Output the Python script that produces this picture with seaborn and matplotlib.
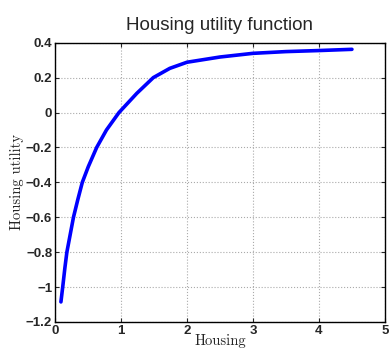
import matplotlib.pyplot as plt
import seaborn as sns
import pandas as pd

housing = [0.09, 0.12, 0.15, 0.18, 0.23, 0.28, 0.345, 0.414, 0.505, 0.632, 0.78, 0.97,
           1.24, 1.49, 1.74, 2.0, 2.5, 3.0, 3.5, 4.0, 4.5]
utility = [-1.085, -0.99, -0.89, -0.8, -0.7, -0.6, -0.5, -0.4, -0.31, -0.2, -0.1, 0.0,
           0.11, 0.2, 0.253, 0.288, 0.318, 0.339, 0.349, 0.355, 0.362]
x_ticks = [0, 1, 2, 3, 4, 5]
y_ticks = [-1.2, -1, -0.8, -0.6, -0.4, -0.2, 0, 0.2, 0.4]
y_tick_labels = ["\u22121.2", "\u22121", "\u22120.8", "\u22120.6", "\u22120.4", "\u22120.2",
                 "0", "0.2", "0.4"]

sns.set_style("ticks")
plt.rcParams["font.family"] = ["Liberation Sans", "DejaVu Sans"]

df = pd.DataFrame({"Housing": housing, "Utility": utility})

fig = plt.figure(figsize=(3.9, 3.54), dpi=100)
ax = fig.add_axes([0.141, 0.0904, 0.846, 0.789])
sns.lineplot(data=df, x="Housing", y="Utility", color="#0000ff", linewidth=2.6, ax=ax)

ax.set_xlim(0, 5)
ax.set_ylim(-1.2, 0.4)
ax.set_xticks(x_ticks)
ax.set_yticks(y_ticks)
tick_font = dict(family="Liberation Sans", weight="bold", size=9.5)
ax.set_xticklabels([str(t) for t in x_ticks], fontdict=tick_font)
ax.set_yticklabels(y_tick_labels, fontdict=tick_font)
ax.tick_params(direction="in", length=3, width=0.8, top=True, right=True, pad=2)
ax.grid(True, linestyle=":", color="#aaaaaa", linewidth=0.8)
for s in ax.spines.values():
    s.set_linewidth(1.0)
    s.set_color("black")

ax.set_title("Housing utility function", fontsize=13.5, pad=9)
ax.set_xlabel("Housing", family="cmr10", fontsize=10.5, labelpad=-2)
ax.set_ylabel("Housing utility", family="cmr10", fontsize=10.5, labelpad=1)

plt.savefig("out.png", dpi=100)
plt.close()
